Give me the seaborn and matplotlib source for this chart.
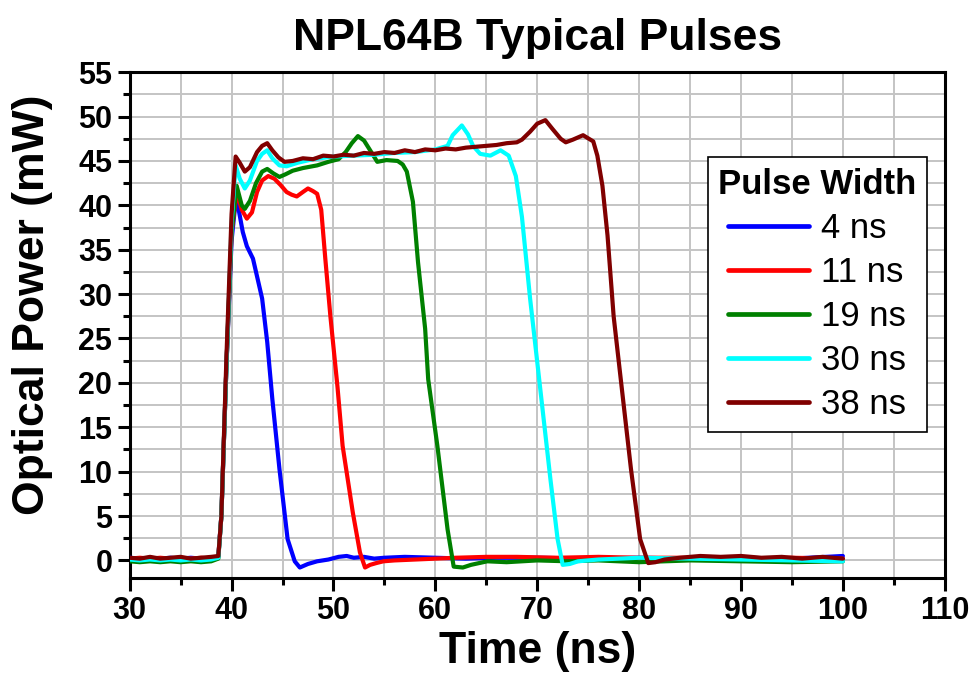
import pandas as pd
import matplotlib.pyplot as plt
import seaborn as sns
from matplotlib.ticker import MultipleLocator

# Pulse traces (time in ns, optical power in mW)
t_4ns = [30, 31, 32, 33, 34, 35, 36, 37, 38, 38.7, 39.0, 39.5, 40.0, 40.4, 40.7, 41.1, 41.5, 42.1,
         43.0, 43.5, 44.0, 44.7, 45.5, 46.2, 46.7, 47.5, 48.4, 49.5, 50.5, 51.3, 52, 53, 54, 55, 57,
         60, 63, 66, 70, 75, 80, 85, 90, 95, 100]
p_4ns = [0.3, 0.2, 0.3, 0.2, 0.3, 0.2, 0.3, 0.2, 0.3, 0.4, 5, 22, 36, 40.5, 39.5, 37.0, 35.4, 34.0,
         29.5, 24.6, 18.2, 10.3, 2.4, -0.1, -0.8, -0.4, -0.1, 0.1, 0.4, 0.5, 0.3, 0.4, 0.2, 0.3, 0.4,
         0.3, 0.2, 0.3, 0.3, 0.2, 0.3, 0.2, 0.3, 0.2, 0.5]

t_11ns = [30, 31, 32, 33, 34, 35, 36, 37, 38, 38.7, 39.0, 39.5, 40.0, 40.5, 41.0, 41.5, 42.0, 42.5,
          43.0, 43.6, 44.2, 44.8, 45.4, 45.9, 46.4, 47.0, 47.5, 48.0, 48.4, 48.8, 49.2, 49.7, 50.4,
          50.9, 51.9, 52.6, 53.1, 53.6, 54.2, 54.9, 56, 58, 60, 62, 65, 68, 72, 76, 80, 85, 90, 95, 100]
p_11ns = [0.2, 0.3, 0.2, 0.3, 0.2, 0.3, 0.2, 0.3, 0.2, 0.4, 5, 22, 37, 41.5, 39.5, 38.5, 39.2, 41.5,
          42.8, 43.3, 43.0, 42.3, 41.5, 41.2, 41.0, 41.5, 41.9, 41.6, 41.3, 39.5, 34.0, 27.5, 19.5,
          12.9, 5.4, 0.9, -0.8, -0.5, -0.3, -0.1, 0.0, 0.1, 0.2, 0.3, 0.4, 0.4, 0.3, 0.4, 0.3, 0.3,
          0.2, 0.3, 0.2]

t_19ns = [30, 31, 32, 33, 34, 35, 36, 37, 38, 38.7, 39.0, 39.5, 40.0, 40.5, 41.0, 41.3, 41.8, 42.4,
          43.0, 43.5, 44.1, 44.7, 45.3, 46.0, 47.0, 48.4, 49.5, 50.5, 51.2, 51.8, 52.4, 53.0, 53.6,
          54.3, 55.2, 56.3, 56.8, 57.2, 57.8, 58.3, 59.0, 59.3, 60.2, 61.2, 61.8, 62.7, 63.5, 65.1,
          67, 70, 73, 76, 80, 85, 90, 95, 100]
p_19ns = [-0.1, -0.2, -0.1, -0.2, -0.1, -0.2, -0.1, -0.2, -0.1, 0.2, 5, 22, 37, 42.2, 40.0, 39.6,
          40.5, 42.5, 43.8, 44.1, 43.6, 43.2, 43.5, 43.9, 44.2, 44.5, 44.9, 45.2, 46.0, 47.0, 47.8,
          47.3, 46.2, 44.9, 45.1, 45.0, 44.6, 43.8, 40.4, 33.6, 26.1, 20.4, 12.9, 3.5, -0.7, -0.8,
          -0.5, -0.1, -0.2, 0.0, -0.1, 0.0, -0.2, 0.0, -0.1, -0.2, -0.1]

t_30ns = [30, 31, 32, 33, 34, 35, 36, 37, 38, 38.7, 39.0, 39.5, 40.0, 40.4, 40.8, 41.3, 41.8, 42.5,
          43.0, 43.5, 44.0, 44.7, 45.4, 46.5, 48, 50, 52, 54, 56, 58, 60, 61.2, 61.7, 62.6, 63.2,
          63.7, 64.4, 65.4, 66.4, 67.2, 67.9, 68.5, 69.3, 70.3, 71.3, 72.0, 72.5, 73.2, 74, 76, 78,
          80, 85, 90, 95, 100]
p_30ns = [0.1, 0.0, 0.1, 0.0, 0.1, 0.0, 0.1, 0.0, 0.1, 0.3, 5, 22, 38, 44.5, 43.0, 41.9, 42.8, 45.0,
          45.8, 46.2, 45.3, 44.5, 44.4, 44.8, 45.2, 45.5, 45.6, 45.7, 45.9, 46.0, 46.3, 46.7, 47.9,
          49.0, 48.0, 46.7, 45.8, 45.6, 46.2, 45.6, 43.3, 38.7, 29.5, 19.3, 9.1, 2.4, -0.5, -0.4,
          -0.1, 0.1, 0.2, 0.3, 0.2, 0.1, 0.0, -0.1]

t_38ns = [30, 31, 32, 33, 34, 35, 36, 37, 38, 38.7, 39.0, 39.5, 40.0, 40.4, 40.8, 41.3, 41.8, 42.5,
          43.0, 43.5, 44.0, 44.6, 45.2, 46, 47, 48, 49, 50, 51, 52, 53, 54, 55, 56, 57, 58, 59, 60,
          61, 62, 63, 64, 65, 66, 67, 68, 68.5, 69.3, 70.0, 70.8, 71.5, 72.3, 72.8, 73.5, 74.5, 75.5,
          75.9, 76.4, 76.9, 77.5, 78.2, 79.2, 80.1, 80.9, 81.6, 82.5, 84, 86, 88, 90, 92, 94, 96,
          98, 100]
p_38ns = [0.3, 0.2, 0.4, 0.2, 0.3, 0.4, 0.2, 0.3, 0.4, 0.5, 5, 23, 39, 45.5, 44.8, 43.8, 44.3, 46.0,
          46.7, 47.0, 46.2, 45.4, 44.9, 45.0, 45.3, 45.2, 45.6, 45.5, 45.7, 45.6, 45.9, 45.8, 46.0,
          45.9, 46.2, 46.0, 46.3, 46.2, 46.4, 46.3, 46.5, 46.6, 46.7, 46.8, 47.0, 47.1, 47.4, 48.3,
          49.2, 49.6, 48.6, 47.5, 47.1, 47.4, 47.9, 47.2, 45.6, 42.2, 36.6, 27.5, 20.4, 10.3, 2.4,
          -0.3, -0.2, 0.1, 0.3, 0.5, 0.4, 0.5, 0.3, 0.4, 0.2, 0.4, 0.2]

widths = ['4 ns', '11 ns', '19 ns', '30 ns', '38 ns']
colors = ['#0000ff', '#ff0000', '#008000', '#00ffff', '#800000']
traces = [(t_4ns, p_4ns), (t_11ns, p_11ns), (t_19ns, p_19ns), (t_30ns, p_30ns), (t_38ns, p_38ns)]

df = pd.concat([pd.DataFrame({'Time': t, 'Power': p, 'Width': w})
                for w, (t, p) in zip(widths, traces)], ignore_index=True)

sns.set_style('white')
plt.rcParams['font.family'] = ['Liberation Sans', 'DejaVu Sans']
plt.rcParams['text.color'] = 'black'
plt.rcParams['axes.labelcolor'] = 'black'
plt.rcParams['xtick.color'] = 'black'
plt.rcParams['ytick.color'] = 'black'

fig = plt.figure(figsize=(9.75, 6.81), dpi=100)
ax = fig.add_axes([0.133, 0.151, 0.836, 0.743])

sns.lineplot(data=df, x='Time', y='Power', hue='Width', hue_order=widths,
             palette=dict(zip(widths, colors)), estimator=None, sort=False,
             lw=3.0, ax=ax, zorder=3)

ax.set_xlim(30, 110)
ax.set_ylim(-2, 55)
ax.xaxis.set_major_locator(MultipleLocator(10))
ax.xaxis.set_minor_locator(MultipleLocator(5))
ax.yaxis.set_major_locator(MultipleLocator(5))
ax.yaxis.set_minor_locator(MultipleLocator(2.5))
ax.grid(which='both', color='#c4c4c4', lw=1.4, zorder=0)
ax.set_axisbelow(True)

for s in ax.spines.values():
    s.set_color('black')
    s.set_linewidth(2.2)
ax.tick_params(which='major', direction='out', length=9, width=2.2, labelsize=22,
               bottom=True, left=True, top=False, right=False)
ax.tick_params(which='minor', direction='out', length=5, width=2.2,
               bottom=True, left=True, top=False, right=False)
for lab in ax.get_xticklabels() + ax.get_yticklabels():
    lab.set_fontweight('bold')

ax.set_xlabel('Time (ns)', fontsize=32, fontweight='bold', labelpad=4)
ax.set_ylabel('Optical Power (mW)', fontsize=32, fontweight='bold')
ax.yaxis.set_label_coords(-0.094, 0.54)
ax.set_title('NPL64B Typical Pulses', fontsize=32, fontweight='bold', pad=16)

handles, labels = ax.get_legend_handles_labels()
for h in handles:
    h.set_linewidth(3.4)
leg = ax.legend(handles, labels, title='Pulse Width', loc='upper left',
                bbox_to_anchor=(0.709, 0.832), fontsize=25, title_fontsize=25,
                frameon=True, fancybox=False, edgecolor='black', framealpha=1,
                handlelength=2.35, handletextpad=0.35, labelspacing=0.32,
                borderpad=0.3, borderaxespad=0)
leg.get_title().set_fontweight('bold')
leg.get_frame().set_linewidth(1.2)

fig.savefig('out.png', dpi=100)
